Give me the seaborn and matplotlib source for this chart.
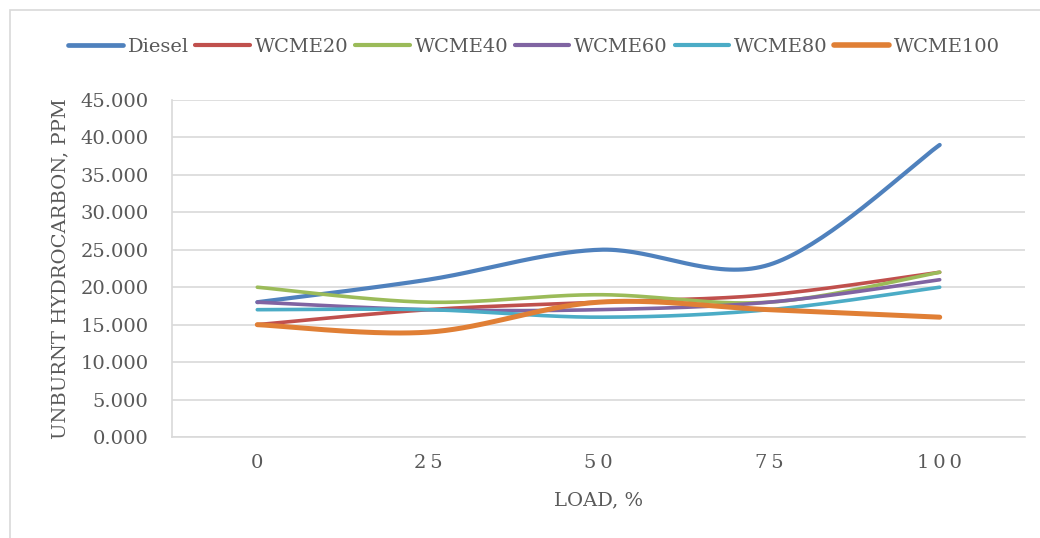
import numpy as np
import pandas as pd
import matplotlib
matplotlib.use("Agg")
import matplotlib.pyplot as plt
from matplotlib.patches import Rectangle
from matplotlib.lines import Line2D
import seaborn as sns

# Engine load (%) and unburnt hydrocarbon emissions (ppm)
load = [0, 25, 50, 75, 100]
load_labels = ["0", "25", "50", "75", "100"]
diesel = [18, 21, 25, 23, 39]
wcme20 = [15, 17, 18, 19, 22]
wcme40 = [20, 18, 19, 18, 22]
wcme60 = [18, 17, 17, 18, 21]
wcme80 = [17, 17, 16, 17, 20]
wcme100 = [15, 14, 18, 17, 16]

series_names = ["Diesel", "WCME20", "WCME40", "WCME60", "WCME80", "WCME100"]
series_values = [diesel, wcme20, wcme40, wcme60, wcme80, wcme100]
colors = ["#4F81BD", "#C0504D", "#9BBB59", "#8064A2", "#4BACC6", "#E07F35"]
widths = [3.0, 2.6, 2.6, 2.6, 2.6, 3.6]


def smooth(xs, ys, n=40):
    """Catmull-Rom style Bezier smoothing through every point."""
    p = np.column_stack([xs, ys]).astype(float)
    ext = np.vstack([p[0], p, p[-1]])
    out = []
    t = np.linspace(0, 1, n)[:, None]
    for i in range(len(p) - 1):
        p0, p1, p2, p3 = ext[i], ext[i + 1], ext[i + 2], ext[i + 3]
        c1 = p1 + (p2 - p0) / 6.0
        c2 = p2 - (p3 - p1) / 6.0
        seg = ((1 - t) ** 3) * p1 + 3 * ((1 - t) ** 2) * t * c1 + 3 * (1 - t) * t ** 2 * c2 + t ** 3 * p2
        out.append(seg if i == 0 else seg[1:])
    s = np.vstack(out)
    return s[:, 0], s[:, 1]


sns.set_theme(style="white")
plt.rcParams["font.family"] = ["DejaVu Serif"]
text_color = "#595959"
grid_color = "#D9D9D9"

fig = plt.figure(figsize=(10.4, 5.38), dpi=100)
ax = fig.add_axes([172 / 1040, 101 / 538, (1025 - 172) / 1040, (437 - 100) / 538])

# outer chart frame
fig.patches.append(Rectangle((10 / 1040, -0.05), 1.1, (538 - 10) / 538 + 0.05,
                             transform=fig.transFigure, fill=False,
                             edgecolor=grid_color, linewidth=1.2))

for name, vals, col, lw in zip(series_names, series_values, colors, widths):
    sx, sy = smooth(load, vals)
    df = pd.DataFrame({"load": sx, "hc": sy})
    sns.lineplot(data=df, x="load", y="hc", ax=ax, color=col, linewidth=lw,
                 sort=False, estimator=None, solid_capstyle="round")

ax.set_xlim(-12.5, 112.5)
ax.set_ylim(0, 45)
ax.set_yticks(np.arange(0, 46, 5))
ax.set_yticklabels([f"{v:.3f}" for v in np.arange(0, 46, 5)])
ax.set_xticks(load)
ax.set_xticklabels(["\u2009".join(s) for s in load_labels])
ax.grid(axis="y", color=grid_color, linewidth=1.2)
ax.set_axisbelow(True)
for side in ["top", "right"]:
    ax.spines[side].set_visible(False)
for side in ["left", "bottom"]:
    ax.spines[side].set_color(grid_color)
    ax.spines[side].set_linewidth(1.2)
ax.tick_params(axis="both", length=0, labelsize=14, colors=text_color)
ax.tick_params(axis="y", pad=17)
ax.tick_params(axis="x", pad=12)
ax.set_xlabel("LOAD, %", fontsize=14, color=text_color, labelpad=14)
ax.set_ylabel("UNBURNT HYDROCARBON, PPM", fontsize=14, color=text_color, labelpad=8)

handles = [Line2D([0], [0], color=c, linewidth=lw + 0.4, solid_capstyle="round")
           for c, lw in zip(colors, widths)]
fig.legend(handles, series_names, loc="center", bbox_to_anchor=(534 / 1040, 1 - 47 / 538),
           ncol=6, frameon=False, fontsize=14, handlelength=2.8, handletextpad=0.25,
           columnspacing=0.35, labelcolor=text_color)

fig.savefig("out.png", dpi=100)
